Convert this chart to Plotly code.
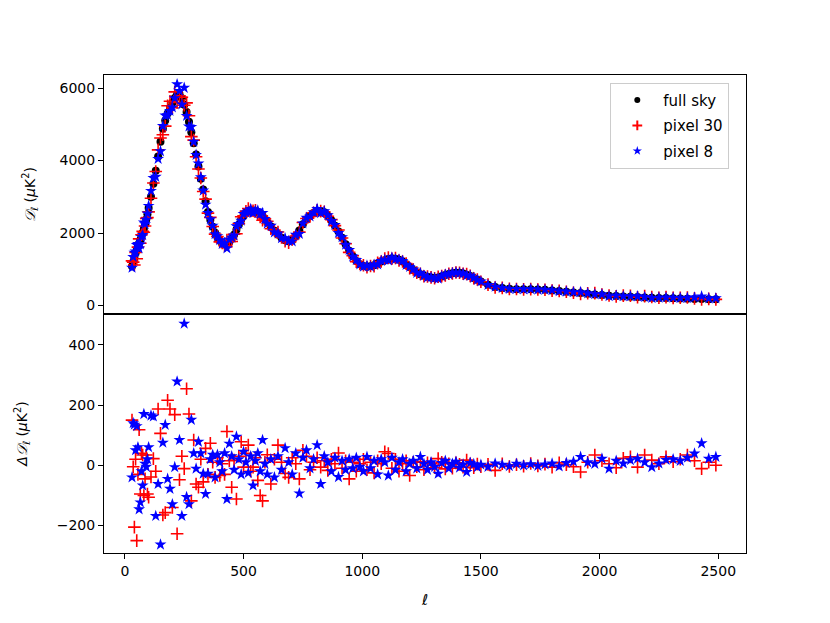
"""Binned CMB TT spectrum: full sky vs. pixel-space estimates, with residuals."""

import numpy as np
import plotly.graph_objects as go
from plotly.subplots import make_subplots

# bin centres
ell = [
    30, 35, 40, 45, 50, 55, 60, 65, 70, 75, 80, 85, 90, 95, 100,
    110, 120, 130, 140, 150, 160, 170, 180, 190, 200,
    210, 220, 230, 240, 250, 260, 270, 280, 290, 300,
    310, 320, 330, 340, 350, 360, 370, 380, 390, 400,
    410, 420, 430, 440, 450, 460, 470, 480, 490, 500,
    510, 520, 530, 540, 550, 560, 570, 580, 590, 600,
    615, 630, 645, 660, 675, 690, 705, 720, 735, 750, 765, 780, 795,
    810, 825, 840, 855, 870, 885, 900, 915, 930, 945, 960, 975, 990,
    1005, 1020, 1035, 1050, 1065, 1080, 1095, 1110, 1125, 1140, 1155, 1170,
    1185, 1200, 1215, 1230, 1245, 1260, 1275, 1290, 1305, 1320, 1335, 1350,
    1365, 1380, 1395, 1410, 1425, 1440, 1455, 1470, 1485, 1500,
    1530, 1560, 1590, 1620, 1650, 1680, 1710, 1740, 1770, 1800, 1830,
    1860, 1890, 1920, 1950, 1980, 2010, 2040, 2070, 2100, 2130, 2160,
    2190, 2220, 2250, 2280, 2310, 2340, 2370, 2400, 2430, 2460, 2490,
]

# full-sky D_ell (uK^2)
dl_full = [
    1080, 1200, 1320, 1440, 1540, 1640, 1720, 1810, 1910, 2010, 2120, 2240, 2370, 2520, 2690,
    3000, 3360, 3720, 4110, 4520, 4880, 5110, 5300, 5450, 5600,
    5730, 5830, 5840, 5720, 5540, 5340, 5070, 4780, 4480, 4170,
    3840, 3500, 3200, 2880, 2580, 2360, 2170, 2010, 1880, 1790,
    1720, 1680, 1690, 1750, 1840, 1950, 2090, 2230, 2370, 2480,
    2560, 2610, 2630, 2620, 2600, 2580, 2540, 2470, 2380, 2290,
    2180, 2060, 1960, 1870, 1800, 1770, 1800, 1910, 2070, 2240, 2370, 2470, 2550,
    2600, 2610, 2570, 2480, 2350, 2200, 2040, 1870, 1690, 1510, 1360, 1230, 1140,
    1090, 1070, 1080, 1110, 1160, 1210, 1250, 1280, 1300, 1290, 1260, 1210,
    1140, 1060, 980, 910, 860, 820, 790, 770, 760, 770, 800, 840,
    870, 890, 900, 900, 880, 850, 810, 760, 710, 660,
    570, 510, 480, 460, 450, 445, 445, 440, 430, 415, 395,
    375, 355, 340, 325, 305, 285, 268, 257, 247, 238, 230,
    222, 215, 208, 202, 196, 190, 185, 180, 176, 172, 168,
]

# residuals w.r.t. full sky (uK^2)
delta_pix30 = [
    150, -5, -205, 20, -250, -30, 118, -95, 40, 34, -100, -45, 34, -95, -106,
    -39, 22, -20, 187, 106, -165, -157, 216, 187, -140,
    168, -227, -48, 30, -11, 254, 170, -118, 84, -62,
    -73, 20, -55, 56, -30, 73, 10, -40, 25, -34,
    5, -30, 112, 15, -73, 17, -112, 30, 78, -6,
    40, 67, -20, -6, 25, -50, -100, -118, 10, 35,
    -62, 20, 67, 10, -27, -40, 25, 5, -45, 50, 30, -15, 10,
    25, -6, 15, -17, 20, 5, 41, -10, 15, -45, 10, -20, 5,
    20, -15, 10, -25, 15, 5, 45, 39, -10, 20, -20, 5,
    15, -34, 10, -5, 12, -15, 8, 5, -8, 22, 10, -12,
    5, -10, 8, 3, -6, 17, 5, -8, 4, -5,
    3, -17, 5, -4, 2, -3, 6, -2, 4, -6, 8,
    2, -5, -22, 10, 34, 15, 5, -8, 23, 28, -6,
    34, 17, 5, 28, 12, 20, 34, 15, -11, 10, 0,
]

delta_pix8 = [
    -40, 140, 135, 50, 130, 60, -146, -123, -20, -67, 170, 5, -5, 20, 60,
    165, 162, -168, -62, -263, 75, 134, -45, -78, -129,
    -6, 278, 84, -168, 470, -105, -129, 151, 40, -11,
    78, 40, -28, -95, -28, 20, 35, -40, 35, 10,
    -20, 40, -112, 72, 30, -15, 95, 20, -30, 45,
    10, -25, 30, -67, 15, 40, -20, 84, 5, -30,
    20, -40, 30, -15, 57, 10, -30, 40, -93, 25, 50, -10, 20,
    67, -62, 30, 10, -20, 25, -39, 15, -15, 20, -10, 25, -5,
    -20, 28, -10, 15, -30, 20, 10, -34, 25, -15, 10, 20,
    -20, 5, 15, -10, 28, 5, -15, 10, -5, -28, 8, 15,
    -10, 5, 12, -8, 3, -22, 8, 4, -6, 2,
    -5, 6, 2, -3, 5, 0, 4, -2, 3, 6, -4,
    8, 12, 28, 10, 5, 22, -11, 15, 6, 17, 22,
    10, -6, 6, 18, 20, 15, 25, 39, 73, 22, 28,
]

ell_arr = np.array(ell)
dl_arr = np.array(dl_full)
dl_pix30 = dl_arr + np.array(delta_pix30)
dl_pix8 = dl_arr + np.array(delta_pix8)

FONT = "DejaVu Sans, Noto Sans, sans-serif"

full_marker = dict(symbol="circle", color="black", size=8, line=dict(width=0))
p30_marker = dict(symbol="cross-thin", color="red", size=9, line=dict(color="red", width=1.6))
p8_marker = dict(symbol="star", color="blue", size=9, line=dict(width=0))

fig = make_subplots(rows=2, cols=1, shared_xaxes=True, vertical_spacing=0)

fig.add_trace(go.Scatter(x=ell_arr, y=dl_arr, mode="markers", marker=full_marker,
                         showlegend=False), row=1, col=1)
fig.add_trace(go.Scatter(x=ell_arr, y=dl_pix30, mode="markers", marker=p30_marker,
                         showlegend=False), row=1, col=1)
fig.add_trace(go.Scatter(x=ell_arr, y=dl_pix8, mode="markers", marker=p8_marker,
                         showlegend=False), row=1, col=1)

fig.add_trace(go.Scatter(x=ell_arr, y=delta_pix30, mode="markers", marker=p30_marker,
                         showlegend=False), row=2, col=1)
fig.add_trace(go.Scatter(x=ell_arr, y=delta_pix8, mode="markers", marker=p8_marker,
                         showlegend=False), row=2, col=1)

# legend entries with smaller symbols, like matplotlib's legend
legend_items = [
    ("full sky", dict(symbol="circle", color="black", size=6)),
    ("pixel 30", dict(symbol="cross-thin", color="red", size=7, line=dict(color="red", width=2))),
    ("pixel 8", dict(symbol="star", color="blue", size=7)),
]
for name, mk in legend_items:
    fig.add_trace(go.Scatter(x=[None], y=[None], mode="markers", marker=mk, name=name,
                             legendgroup=name), row=1, col=1)

axis_style = dict(
    showline=True, linecolor="black", linewidth=1, mirror=True,
    showgrid=False, zeroline=False,
    ticks="outside", ticklen=5, tickwidth=1, tickcolor="black",
    tickfont=dict(family=FONT, size=14, color="black"),
)

fig.update_xaxes(**axis_style, range=[-88, 2617])
fig.update_xaxes(showticklabels=False, ticks="", row=1, col=1)
fig.update_xaxes(dtick=500, tickformat="d",
                 title=dict(text="<i>ℓ</i>", font=dict(family=FONT, size=15, color="black"),
                            standoff=16),
                 row=2, col=1)

fig.update_yaxes(**axis_style)
fig.update_yaxes(range=[-237, 6364], dtick=2000, tickformat="d",
                 title=dict(text="<i>𝒟</i><sub><i>ℓ</i></sub> (<i>μ</i>K<sup>2</sup>)",
                            font=dict(family=FONT, size=14, color="black"), standoff=20),
                 row=1, col=1)
fig.update_yaxes(range=[-291, 502], dtick=200, tickformat="d",
                 title=dict(text="<i>Δ𝒟</i><sub><i>ℓ</i></sub> (<i>μ</i>K<sup>2</sup>)",
                            font=dict(family=FONT, size=14, color="black"), standoff=25),
                 row=2, col=1)

# the page body adds an 8px offset, so the margins are shifted to compensate
fig.update_layout(
    width=830,
    height=623,
    margin=dict(l=96, r=92, t=67, b=78),
    paper_bgcolor="white",
    plot_bgcolor="white",
    font=dict(family=FONT, size=14, color="black"),
    legend=dict(
        x=0.974, y=0.984, xanchor="right", yanchor="top",
        bgcolor="white", bordercolor="#cccccc", borderwidth=1,
        font=dict(family=FONT, size=15, color="black"),
        traceorder="grouped", tracegroupgap=3,
        itemwidth=42, entrywidth=98,
    ),
)

fig.write_html("out.html")
